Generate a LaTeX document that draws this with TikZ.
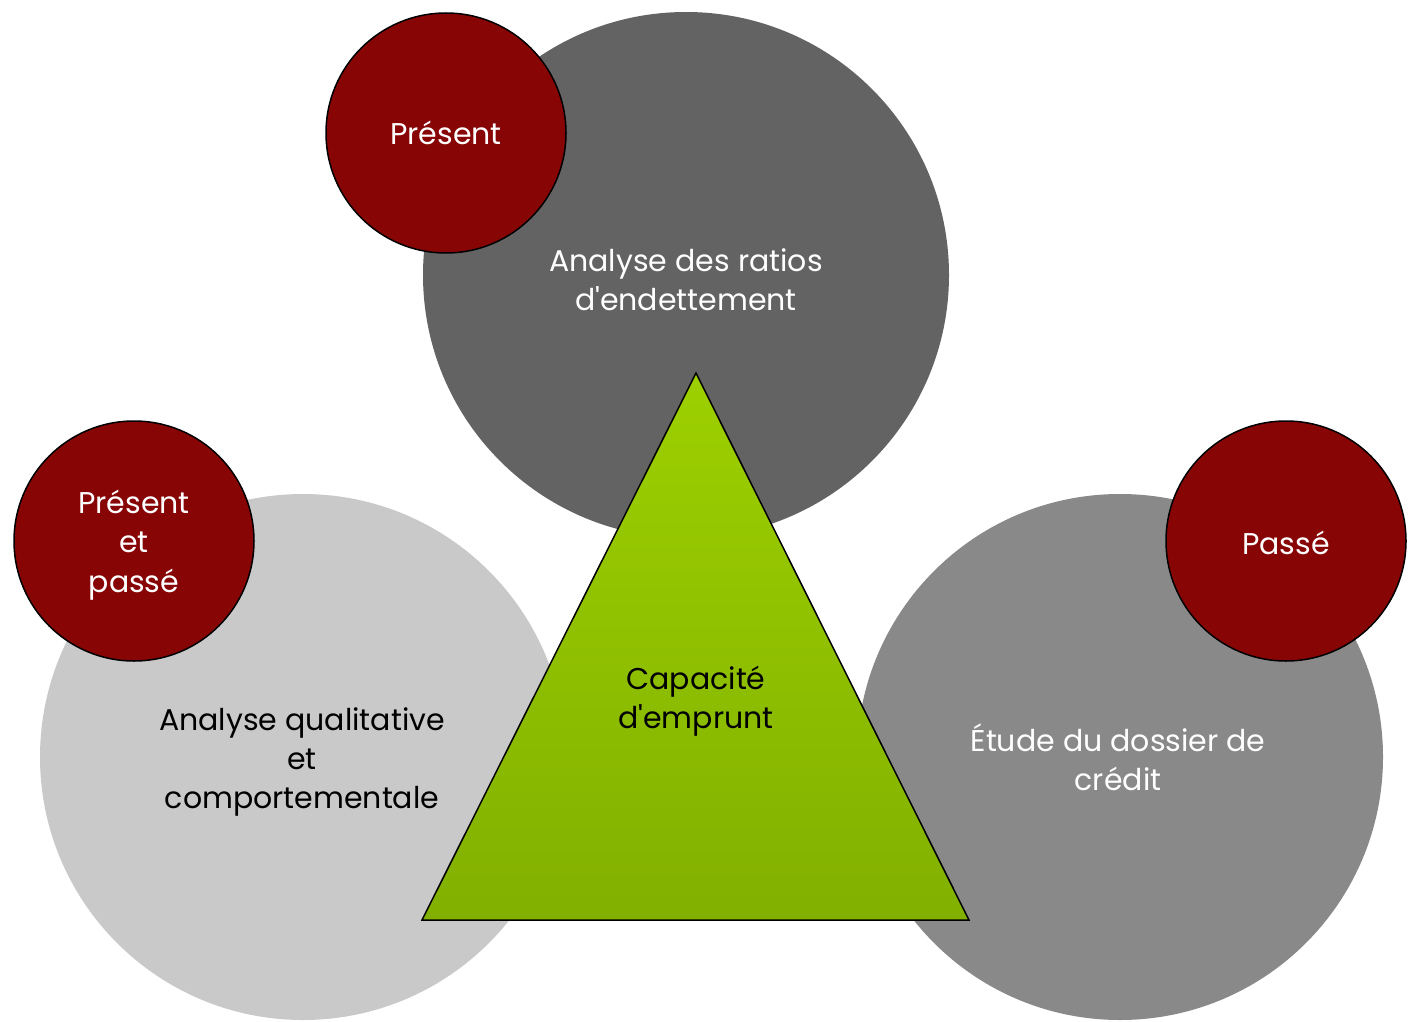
\documentclass[tikz,border=0pt]{standalone}
\usepackage{fontspec}
\setmainfont{Poppins}
\usetikzlibrary{positioning}
\definecolor{ratioGray}{HTML}{636363}
\definecolor{qualGray}{HTML}{C9C9C9}
\definecolor{creditGray}{HTML}{898989}
\definecolor{tagRed}{HTML}{880506}
\definecolor{greenTop}{HTML}{9DD000}
\definecolor{greenBot}{HTML}{82B000}

\begin{document}
\begin{tikzpicture}[x=0.5pt,y=-0.5pt,font=\fontsize{15}{19.7}\selectfont,
  bigdisc/.style={circle,inner sep=0pt,minimum size=263pt,align=center},
  tagdisc/.style={circle,draw=black,line width=0.75pt,fill=tagRed,text=white,
    minimum size=120pt,inner sep=0pt,align=center}]
  \useasboundingbox (0,0) rectangle (1408,1022);
  % three analysis discs
  \node[bigdisc,fill=ratioGray] (ratios) at (686,275) {};
  \node[bigdisc,fill=qualGray] (qualit) at (303,757) {};
  \node[bigdisc,fill=creditGray] (dossier) at (1120,757) {};
  \node[text=white,align=center] (ratiostxt) at (686,280)
    {Analyse des ratios\\d\textquotesingle endettement};
  \node[text=black,align=center] (qualtxt) at (302,762)
    {Analyse qualitative\\et\\comportementale};
  \node[text=white,align=center] (dossiertxt) at (1118,757)
    {Étude du dossier de\\crédit};
  % time tags
  \node[tagdisc] (present) at (446,133) {Présent};
  \node[tagdisc] (presentpasse) at (134,541) {};
  \node[text=white,align=center] (presentpassetxt) at (134,545) {Présent\\et\\passé};
  \node[tagdisc] (passe) at (1286,541) {};
  \node[text=white] (passetxt) at (1286,543) {Passé};
  % central triangle
  \coordinate (apex) at (696,373);
  \coordinate (baseL) at (422,920);
  \coordinate (baseR) at (969,920);
  \draw[line width=0.75pt,top color=greenTop,bottom color=greenBot]
    (apex) -- (baseL) -- (baseR) -- cycle;
  \node[align=center] (capacite) at (696,701) {Capacité\\d\textquotesingle emprunt};
\end{tikzpicture}
\end{document}
